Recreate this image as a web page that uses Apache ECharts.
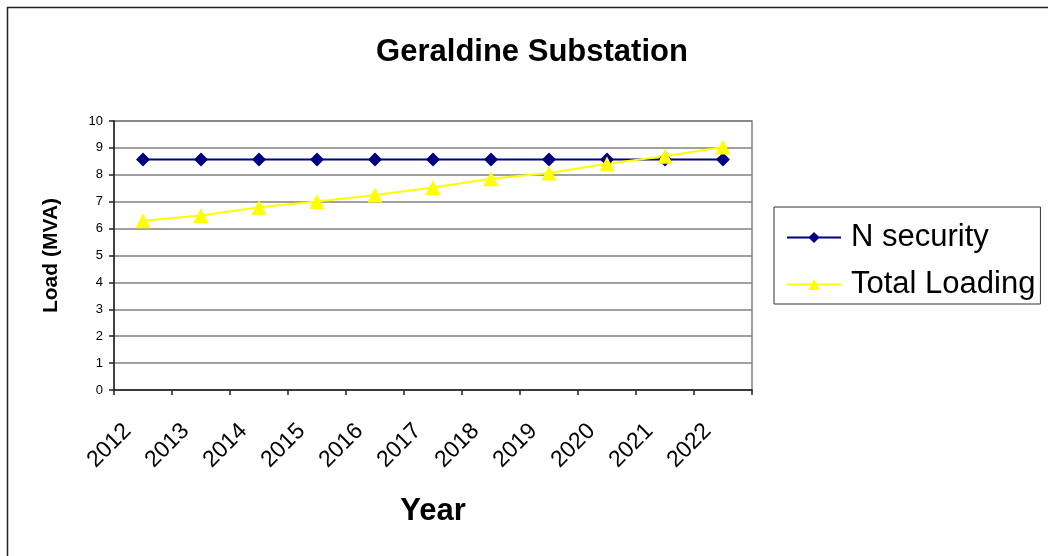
<!DOCTYPE html>
<html>
<head>
<meta charset="utf-8">
<title>Geraldine Substation</title>
<script src="https://cdn.jsdelivr.net/npm/echarts@6/dist/echarts.min.js"></script>
<style>
  html, body { margin: 0; padding: 0; background: #fff; }
  #chart { width: 1048px; height: 556px; }
</style>
</head>
<body>
<div id="chart"></div>
<script>
// Load forecast for Geraldine Substation (MVA)
const years = ['2012', '2013', '2014', '2015', '2016', '2017', '2018', '2019', '2020', '2021', '2022'];
const nSecurity = [8.57, 8.57, 8.57, 8.57, 8.57, 8.57, 8.57, 8.57, 8.57, 8.57, 8.57];
const totalLoading = [6.29, 6.49, 6.79, 7.01, 7.25, 7.53, 7.85, 8.07, 8.41, 8.69, 9.03];
const yTicks = { min: 0, max: 10, interval: 1 };

const FONT = '"Liberation Sans", Arial, sans-serif';
const chart = echarts.init(document.getElementById('chart'), null, { renderer: 'canvas' });

chart.setOption({
  backgroundColor: '#fff',
  animation: false,
  textStyle: { fontFamily: FONT, color: '#000' },
  graphic: [{
    type: 'rect',
    shape: { x: 7.5, y: 7.5, width: 1100, height: 600 },
    style: { fill: 'none', stroke: '#222', lineWidth: 1.5 },
    silent: true,
    z: -1
  }],
  title: {
    text: 'Geraldine Substation',
    left: 527,
    top: 32,
    textAlign: 'center',
    textStyle: { fontFamily: FONT, fontSize: 31, fontWeight: 'bold', color: '#000' }
  },
  legend: {
    orient: 'vertical',
    left: 774,
    top: 207,
    padding: [15, 5, 4, 12],
    itemGap: 16,
    itemWidth: 54,
    itemHeight: 14,
    borderColor: '#333',
    borderWidth: 1,
    textStyle: { fontFamily: FONT, fontSize: 31, lineHeight: 31, color: '#000', padding: [0, 0, 0, 5] },
    data: ['N security', 'Total Loading']
  },
  grid: {
    left: 114,
    top: 121,
    width: 638,
    height: 269,
    show: true,
    borderColor: '#808080',
    borderWidth: 1.5,
    containLabel: false
  },
  xAxis: {
    type: 'category',
    data: years,
    boundaryGap: true,
    name: 'Year',
    nameLocation: 'middle',
    nameGap: 106,
    nameTextStyle: { fontFamily: FONT, fontSize: 31, fontWeight: 'bold', color: '#000' },
    axisLine: { lineStyle: { color: '#222', width: 1.5 } },
    axisTick: { show: true, inside: false, length: 5, lineStyle: { color: '#222', width: 1.5 } },
    axisLabel: { fontFamily: FONT, fontSize: 23, color: '#000', rotate: 45, margin: 22, padding: [0, 22, 0, 0] },
    splitLine: { show: false }
  },
  yAxis: {
    type: 'value',
    min: yTicks.min,
    max: yTicks.max,
    interval: yTicks.interval,
    name: 'Load (MVA)',
    nameLocation: 'middle',
    nameGap: 52,
    nameTextStyle: { fontFamily: FONT, fontSize: 21, fontWeight: 'bold', color: '#000' },
    axisLine: { show: true, lineStyle: { color: '#222', width: 1.5 } },
    axisTick: { show: true, inside: false, length: 5, lineStyle: { color: '#222', width: 1.5 } },
    axisLabel: { fontFamily: FONT, fontSize: 13, color: '#000', margin: 11 },
    splitLine: { show: true, lineStyle: { color: '#808080', width: 1.5 } }
  },
  series: [
    {
      name: 'N security',
      type: 'line',
      data: nSecurity,
      symbol: 'diamond',
      symbolSize: 14,
      itemStyle: { color: '#000080' },
      lineStyle: { color: '#000080', width: 2 }
    },
    {
      name: 'Total Loading',
      type: 'line',
      data: totalLoading,
      symbol: 'triangle',
      symbolSize: 15,
      itemStyle: { color: '#FFFF00' },
      lineStyle: { color: '#FFFF00', width: 2 }
    }
  ]
});
</script>
</body>
</html>
